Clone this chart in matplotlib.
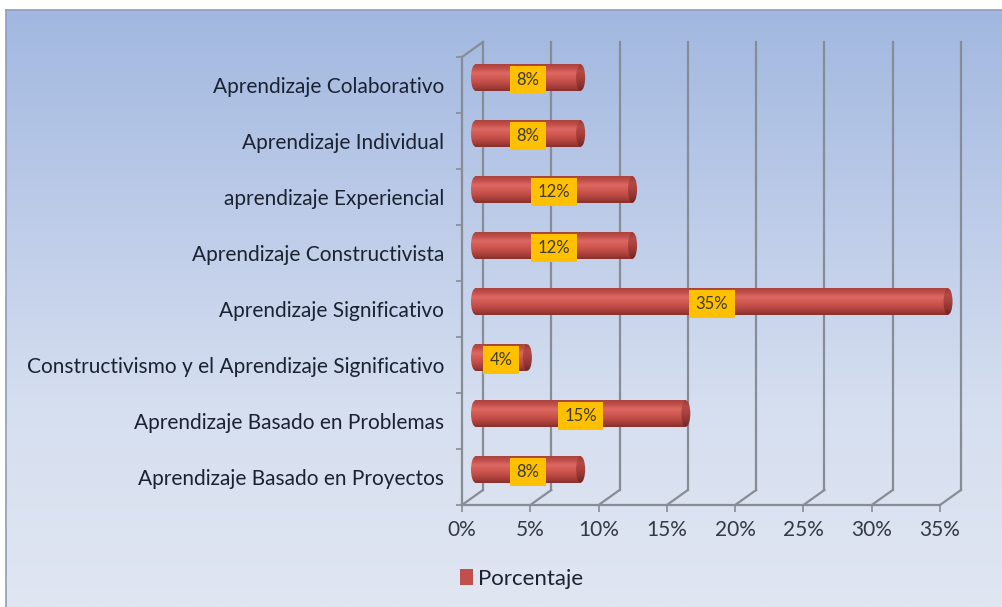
import matplotlib.pyplot as plt
import numpy as np
from matplotlib.patches import Ellipse, Rectangle
from matplotlib.colors import LinearSegmentedColormap

# datos (de abajo hacia arriba)
categorias = [
    'Aprendizaje Basado en Proyectos',
    'Aprendizaje Basado en Problemas',
    'Constructivismo y el Aprendizaje Significativo',
    'Aprendizaje Significativo',
    'Aprendizaje Constructivista',
    'aprendizaje Experiencial',
    'Aprendizaje Individual',
    'Aprendizaje Colaborativo',
]
porcentajes = [0.077, 0.154, 0.038, 0.346, 0.115, 0.115, 0.077, 0.077]
etiquetas = ['8%', '15%', '4%', '35%', '12%', '12%', '8%', '8%']
xticks = [0, 0.05, 0.10, 0.15, 0.20, 0.25, 0.30, 0.35]
xlabels = ['0%', '5%', '10%', '15%', '20%', '25%', '30%', '35%']

plt.rcParams['font.family'] = ['Lato', 'DejaVu Sans']

W, H = 1003, 607
fig = plt.figure(figsize=(W / 100, H / 100), dpi=100)
fig.patch.set_facecolor('white')

# fondo degradado
bg = fig.add_axes([0, 0, 1, 1])
bg.axis('off')
cmap_bg = LinearSegmentedColormap.from_list('bg', ['#a2b8e0', '#bccbe8', '#d6dff0', '#e0e6f2'])
grad = np.linspace(0, 1, 256).reshape(-1, 1)
bg.imshow(grad, aspect='auto', cmap=cmap_bg, extent=[6, W, H, 10], origin='upper')
bg.plot([6, W], [10, 10], color='#8e9db9', lw=1.2)
bg.plot([6, 6], [10, H], color='#8e9db9', lw=1.2)
bg.set_xlim(0, W)
bg.set_ylim(H, 0)

# ejes (plano frontal); el eje se alarga a la derecha para no recortar el cilindro
x0, x1, ytop, ybot = 462, 940, 57, 505
extra = 55
XMAX = 0.35
px_x = XMAX / (x1 - x0)
ax = fig.add_axes([x0 / W, (H - ybot) / H, (x1 + extra - x0) / W, (ybot - ytop) / H])
ax.patch.set_alpha(0)
n = len(categorias)
px_y = n / (ybot - ytop)
DX = 21 * px_x          # profundidad en unidades de datos
DY = 15 * px_y

grid_c = '#878d96'
for t in xticks:
    ax.plot([t + DX, t + DX], [-0.5 + DY, n - 0.5 + DY], color=grid_c, lw=1.6, clip_on=False, zorder=1)
    ax.plot([t, t + DX], [-0.5, -0.5 + DY], color=grid_c, lw=1.6, clip_on=False, zorder=1)
ax.plot([0, DX], [n - 0.5, n - 0.5 + DY], color=grid_c, lw=1.6, clip_on=False, zorder=1)

for s in ['top', 'right']:
    ax.spines[s].set_visible(False)
for s in ['left', 'bottom']:
    ax.spines[s].set_color(grid_c)
    ax.spines[s].set_linewidth(1.6)
ax.spines['bottom'].set_bounds(0, XMAX)

ax.set_xticks(xticks)
ax.set_xticklabels(xlabels, fontsize=15, color='#333a45')
ax.tick_params(axis='x', length=5, width=1.2, color=grid_c, pad=6)
ax.set_yticks(range(n))
ax.set_yticklabels(categorias, fontsize=15, color='#1b2333')
ax.tick_params(axis='y', length=0, pad=13)
ax.set_yticks(np.arange(-0.5, n, 1), minor=True)
ax.tick_params(axis='y', which='minor', length=4, width=1.2, color=grid_c)

# cilindros
cmap_body = LinearSegmentedColormap.from_list(
    'body', ['#87302d', '#a83f3b', '#c44e49', '#d35a55', '#dc6963', '#c4504b', '#a9423e'])
cmap_cap = LinearSegmentedColormap.from_list(
    'cap', ['#6e2523', '#8f3431', '#a8403c', '#b44a46', '#9a3936'])
bh = 0.47
ew = 9 * px_x
yy = np.arange(n) + DY / 2
bars = ax.barh(yy, porcentajes, height=bh, left=DX / 2 + 3 * px_x, color='#c0504d',
               label='Porcentaje', zorder=3)
gimg = np.linspace(0, 1, 128).reshape(-1, 1)
for b in bars:
    bx, by, bw, bhh = b.get_x(), b.get_y(), b.get_width(), b.get_height()
    b.set_facecolor('none')
    b.set_edgecolor('none')
    rect = Rectangle((bx, by), bw, bhh, transform=ax.transData)
    im = ax.imshow(gimg, aspect='auto', cmap=cmap_body, origin='lower',
                   extent=[bx - ew, bx + bw, by, by + bhh], zorder=3)
    im.set_clip_path(rect)
    le = Ellipse((bx, by + bhh / 2), ew, bhh, transform=ax.transData)
    im2 = ax.imshow(gimg, aspect='auto', cmap=cmap_body, origin='lower',
                    extent=[bx - ew, bx + bw, by, by + bhh], zorder=3)
    im2.set_clip_path(le)
    re = Ellipse((bx + bw, by + bhh / 2), ew, bhh, transform=ax.transData)
    im3 = ax.imshow(gimg, aspect='auto', cmap=cmap_cap, origin='lower',
                    extent=[bx + bw - ew, bx + bw + ew, by, by + bhh], zorder=4)
    im3.set_clip_path(re)

# etiquetas de datos
renderer = fig.canvas.get_renderer()
for b, lab in zip(bars, etiquetas):
    cx = b.get_x() + b.get_width() / 2
    cy = b.get_y() + b.get_height() / 2 - 0.05
    t = ax.text(cx, cy, lab, ha='center', va='center', fontsize=12,
                color='#3d3a33', zorder=6)
    ext = t.get_window_extent(renderer)
    w = (ext.width + 13) * px_x
    h = 28 * px_y
    ax.add_patch(Rectangle((cx - w / 2, cy - h / 2), w, h, facecolor='#ffc000',
                           edgecolor='none', zorder=5))

ax.set_xlim(0, XMAX + extra * px_x)
ax.set_ylim(-0.5, n - 0.5)

fig.legend(handles=[bars], labels=['Porcentaje'], loc='center left',
           bbox_to_anchor=(440 / W, (H - 579) / H), frameon=False, fontsize=16,
           handlelength=0.6, handleheight=0.75, handletextpad=0.2, labelcolor='#1b2333')
for p in fig.legends[0].get_patches():
    p.set_facecolor('#c0504d')

fig.savefig('out.png', dpi=100)
